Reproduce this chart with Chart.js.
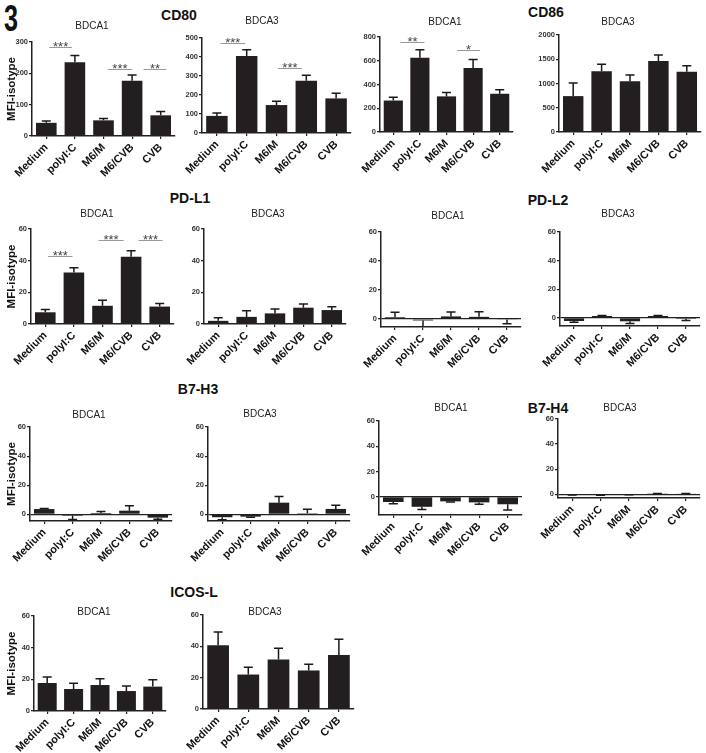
<!DOCTYPE html>
<html>
<head>
<meta charset="utf-8">
<script src="https://cdn.jsdelivr.net/npm/chart.js@4.4.1/dist/chart.umd.min.js"></script>
<style>
  body { margin: 0; background: #fff; }
  #fig { position: relative; width: 706px; height: 753px; overflow: hidden; background: #fff;
         font-family: "Liberation Sans", Arial, sans-serif; color: #111; }
  #fig canvas { position: absolute; }
  .grp { position: absolute; font-weight: bold; font-size: 14px; line-height: 1; white-space: nowrap;
         transform: translate(-50%, -50%); }
  .sub { position: absolute; font-size: 10px; line-height: 1; white-space: nowrap; color: #222;
         transform: translate(-50%, -50%); }
  .num { position: absolute; left: 4px; top: 1px; font-weight: bold; font-size: 36px; line-height: 1;
         transform: scaleX(0.7); transform-origin: left top; }
</style>
</head>
<body>
<div id="fig">
  <div class="num">3</div>
  <div class="grp" style="left:179px;top:15px">CD80</div>
  <div class="grp" style="left:546px;top:12px">CD86</div>
  <div class="grp" style="left:190px;top:198px">PD-L1</div>
  <div class="grp" style="left:548px;top:200px">PD-L2</div>
  <div class="grp" style="left:198px;top:389px">B7-H3</div>
  <div class="grp" style="left:548px;top:408px">B7-H4</div>
  <div class="grp" style="left:194px;top:592px">ICOS-L</div>
</div>
<script>
const FONT = '"Liberation Sans", Arial, sans-serif';

const categories = ["Medium", "polyI:C", "M6/M", "M6/CVB", "CVB"];

// CD80
const cd80Bdca1 = [42, 235, 50, 176, 66];
const cd80Bdca1Sem = [6, 22, 6, 19, 12];
const cd80Bdca3 = [90, 405, 147, 275, 182];
const cd80Bdca3Sem = [15, 33, 20, 29, 27];
// CD86
const cd86Bdca1 = [265, 625, 300, 540, 322];
const cd86Bdca1Sem = [28, 67, 33, 70, 33];
const cd86Bdca3 = [740, 1255, 1045, 1465, 1240];
const cd86Bdca3Sem = [270, 140, 130, 125, 125];
// PD-L1
const pdl1Bdca1 = [7.4, 32.5, 11.5, 42.5, 11];
const pdl1Bdca1Sem = [1.7, 3, 3.5, 3.8, 2];
const pdl1Bdca3 = [2, 4.5, 6.7, 10.3, 8.8];
const pdl1Bdca3Sem = [2, 3.8, 2.8, 2.3, 2.1];
// PD-L2
const pdl2Bdca1 = [1.2, -1, 1.8, 1.5, -0.3];
const pdl2Bdca1Sem = [3.5, 5, 3, 3.5, 3];
const pdl2Bdca3 = [-2.3, 1.2, -2.5, 1.2, -0.8];
const pdl2Bdca3Sem = [0.8, 0.4, 1.5, 0.4, 1.2];
// B7-H3
const b7h3Bdca1 = [3.6, -0.9, 0.9, 2.5, -2.3];
const b7h3Bdca1Sem = [0.4, 2.7, 1.1, 3.4, 1.1];
const b7h3Bdca3 = [-2, -1.6, 8, 0.7, 3.7];
const b7h3Bdca3Sem = [1.8, 0.5, 4.3, 2.7, 2.5];
// B7-H4
const b7h4Bdca1 = [-4.2, -8, -3.7, -4.5, -6];
const b7h4Bdca1Sem = [1.4, 2.2, 0.5, 1.5, 4.6];
const b7h4Bdca3 = [-0.5, -0.6, -0.3, 0.3, 0.4];
const b7h4Bdca3Sem = [0.2, 0.2, 0.2, 0.2, 0.2];
// ICOS-L
const icoslBdca1 = [17.7, 13.9, 16.4, 12.6, 15.4];
const icoslBdca1Sem = [3.8, 3.6, 4, 3.2, 4.4];
const icoslBdca3 = [40.7, 22, 31.6, 24.6, 34.5];
const icoslBdca3Sem = [8.5, 4.7, 7.2, 4, 10];

// tick labels
const ticks300 = [0, 100, 200, 300];
const ticks500 = [0, 100, 200, 300, 400, 500];
const ticks800 = [0, 200, 400, 600, 800];
const ticks2000 = [0, 500, 1000, 1500, 2000];
const ticks60 = [0, 20, 40, 60];

// significance: [from category, to category, height, stars]
const cd80Bdca1Sig = [[0.1, 0.9, 285, "***"], [2.15, 3.0, 213, "***"], [3.4, 4.2, 213, "**"]];
const cd80Bdca3Sig = [[0.12, 0.95, 473, "***"], [2.05, 2.85, 340, "***"]];
const cd86Bdca1Sig = [[0.27, 1.17, 758, "**"], [2.4, 3.26, 690, "*"]];
const pdl1Bdca1Sig = [[0.1, 0.95, 43, "***"], [1.86, 2.74, 53, "***"], [3.26, 4.1, 53, "***"]];

// layout: box = [left, right, top, bottom] of the plot area on the page
const panels = [
  { title: "BDCA1", at: [92, 26], data: cd80Bdca1, sem: cd80Bdca1Sem, ticks: ticks300, min: 0, max: 300, sig: cd80Bdca1Sig, yTitle: true, box: [32, 175, 42, 136] },
  { title: "BDCA3", at: [262, 21], data: cd80Bdca3, sem: cd80Bdca3Sem, ticks: ticks500, min: 0, max: 500, sig: cd80Bdca3Sig, box: [202, 351, 38, 133] },
  { title: "BDCA1", at: [445, 22], data: cd86Bdca1, sem: cd86Bdca1Sem, ticks: ticks800, min: 0, max: 800, sig: cd86Bdca1Sig, box: [380, 513, 37, 132] },
  { title: "BDCA3", at: [618, 22], data: cd86Bdca3, sem: cd86Bdca3Sem, ticks: ticks2000, min: 0, max: 2000, box: [559, 701, 35, 132] },

  { title: "BDCA1", at: [97, 214], data: pdl1Bdca1, sem: pdl1Bdca1Sem, ticks: ticks60, min: 0, max: 60, sig: pdl1Bdca1Sig, yTitle: true, box: [31, 174, 229, 324] },
  { title: "BDCA3", at: [268, 214], data: pdl1Bdca3, sem: pdl1Bdca3Sem, ticks: ticks60, min: 0, max: 60, box: [204, 346, 229, 324] },
  { title: "BDCA1", at: [448, 216], data: pdl2Bdca1, sem: pdl2Bdca1Sem, ticks: ticks60, min: -5.5, max: 60, box: [381, 521, 232, 327] },
  { title: "BDCA3", at: [618, 214], data: pdl2Bdca3, sem: pdl2Bdca3Sem, ticks: ticks60, min: -5.8, max: 60, box: [560, 700, 232, 326] },

  { title: "BDCA1", at: [89, 415], data: b7h3Bdca1, sem: b7h3Bdca1Sem, ticks: ticks60, min: -4.6, max: 60, yTitle: true, box: [30, 172, 427, 521] },
  { title: "BDCA3", at: [260, 414], data: b7h3Bdca3, sem: b7h3Bdca3Sem, ticks: ticks60, min: -4.6, max: 60, box: [208, 350, 427, 521] },
  { title: "BDCA1", at: [451, 408], data: b7h4Bdca1, sem: b7h4Bdca1Sem, ticks: ticks60, min: -14.5, max: 60, box: [379, 522, 421, 515] },
  { title: "BDCA3", at: [620, 408], data: b7h4Bdca3, sem: b7h4Bdca3Sem, ticks: ticks60, min: -3, max: 60, box: [558, 700, 419, 498] },

  { title: "BDCA1", at: [94, 612], data: icoslBdca1, sem: icoslBdca1Sem, ticks: ticks60, min: 0, max: 60, yTitle: true, box: [34, 166, 616, 711] },
  { title: "BDCA3", at: [265, 612], data: icoslBdca3, sem: icoslBdca3Sem, ticks: ticks60, min: 0, max: 60, box: [203, 354, 615, 709] }
];

// error bars, one-sided, pointing away from zero
const errorBars = {
  id: "errorBars",
  afterDatasetsDraw(chart, args, opts) {
    const { ctx, chartArea } = chart;
    const values = chart.data.datasets[0].data;
    const y = chart.scales.y;
    ctx.save();
    ctx.beginPath();
    ctx.rect(chartArea.left, chartArea.top - 20, chartArea.right - chartArea.left, chartArea.bottom - chartArea.top + 20);
    ctx.clip();
    ctx.strokeStyle = "#1a1a1a";
    ctx.lineWidth = 1.5;
    chart.getDatasetMeta(0).data.forEach((bar, i) => {
      const v = values[i];
      const end = v >= 0 ? v + opts.sem[i] : v - opts.sem[i];
      const y0 = y.getPixelForValue(v);
      const y1 = y.getPixelForValue(end);
      ctx.beginPath();
      ctx.moveTo(bar.x, y0);
      ctx.lineTo(bar.x, y1);
      ctx.moveTo(bar.x - 4.5, y1);
      ctx.lineTo(bar.x + 4.5, y1);
      ctx.stroke();
    });
    ctx.restore();
  }
};

// significance lines with stars
const sigMarks = {
  id: "sigMarks",
  afterDraw(chart, args, opts) {
    if (!opts.marks || !opts.marks.length) return;
    const { ctx } = chart;
    const x = chart.scales.x;
    const y = chart.scales.y;
    ctx.save();
    opts.marks.forEach(([a, b, h, label]) => {
      const x0 = x.getPixelForValue(a);
      const x1 = x.getPixelForValue(b);
      const py = Math.round(y.getPixelForValue(h)) + 0.5;
      ctx.strokeStyle = "#9a9a9a";
      ctx.lineWidth = 1;
      ctx.beginPath();
      ctx.moveTo(x0, py);
      ctx.lineTo(x1, py);
      ctx.stroke();
      ctx.fillStyle = "#444";
      ctx.font = "13px " + FONT;
      ctx.textAlign = "center";
      ctx.textBaseline = "alphabetic";
      ctx.fillText(label, (x0 + x1) / 2, py + 3);
    });
    ctx.restore();
  }
};

const fig = document.getElementById("fig");
const padL = 40, padT = 30, padR = 6, padB = 62;

function makePanel(p) {
  const [l, r, t, b] = p.box;
  const canvas = document.createElement("canvas");
  canvas.width = r - l + padL + padR;
  canvas.height = b - t + padT + padB;
  canvas.style.left = (l - padL) + "px";
  canvas.style.top = (t - padT) + "px";
  fig.appendChild(canvas);

  const sub = document.createElement("div");
  sub.className = "sub";
  sub.style.left = p.at[0] + "px";
  sub.style.top = p.at[1] + "px";
  sub.textContent = p.title;
  fig.appendChild(sub);

  const titlePad = Math.max(0, 12 - (l - padL) - 6.6);

  new Chart(canvas, {
    type: "bar",
    data: {
      labels: categories,
      datasets: [{
        data: p.data,
        backgroundColor: "#231f20",
        borderWidth: 0,
        barPercentage: 0.72,
        categoryPercentage: 1
      }]
    },
    options: {
      responsive: false,
      animation: false,
      events: [],
      layout: { padding: { left: 0, top: padT, right: padR, bottom: 0 } },
      plugins: {
        legend: { display: false },
        tooltip: { enabled: false },
        errorBars: { sem: p.sem },
        sigMarks: { marks: p.sig || [] }
      },
      scales: {
        x: {
          grid: { offset: false, drawOnChartArea: false, tickLength: 3, color: "#222", lineWidth: 1.2 },
          border: { color: "#222", width: 1.5 },
          ticks: {
            minRotation: 45, maxRotation: 45, autoSkip: false, padding: 2, color: "#111",
            font: { family: FONT, size: 11, weight: "bold" }
          },
          afterFit: (s) => { s.height = padB; s.paddingLeft = 0; s.paddingRight = 0; }
        },
        y: {
          min: p.min,
          max: p.max,
          afterBuildTicks: (s) => { s.ticks = p.ticks.map((v) => ({ value: v })); },
          grid: {
            color: (c) => (p.min < 0 && c.tick && c.tick.value === 0 ? "#222" : "rgba(0,0,0,0)"),
            tickColor: "#222",
            tickLength: 3,
            lineWidth: 1.2
          },
          border: { color: "#222", width: 1.5 },
          ticks: {
            padding: 1, color: "#333",
            font: { family: FONT, size: 7.5, weight: "bold" },
            callback: (v) => String(v)
          },
          title: {
            display: !!p.yTitle,
            text: "MFI-isotype",
            color: "#111",
            padding: { top: titlePad, bottom: 0 },
            font: { family: FONT, size: 11.5, weight: "bold" }
          },
          afterFit: (s) => { s.width = padL; s.paddingTop = 0; s.paddingBottom = 0; }
        }
      }
    },
    plugins: [errorBars, sigMarks]
  });
}

panels.forEach(makePanel);
</script>
</body>
</html>
